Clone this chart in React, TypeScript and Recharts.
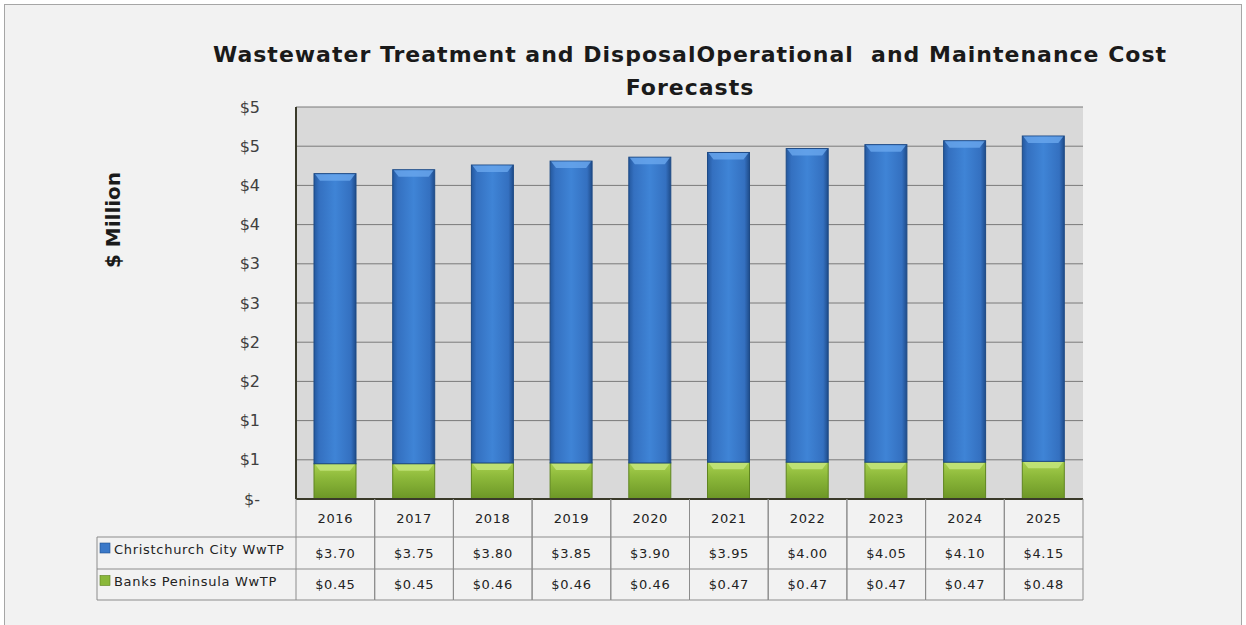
import { BarChart, Bar, XAxis, YAxis, CartesianGrid } from 'recharts'

const years = ['2016', '2017', '2018', '2019', '2020', '2021', '2022', '2023', '2024', '2025']
const christchurch = [3.7, 3.75, 3.8, 3.85, 3.9, 3.95, 4.0, 4.05, 4.1, 4.15]
const banks = [0.45, 0.45, 0.46, 0.46, 0.46, 0.47, 0.47, 0.47, 0.47, 0.48]
const yTicks = [0, 0.5, 1, 1.5, 2, 2.5, 3, 3.5, 4, 4.5, 5]
const seriesNames = ['Christchurch City WwTP', 'Banks Peninsula WwTP']

const data = years.map((year, i) => ({ year, christchurch: christchurch[i], banks: banks[i] }))

const W = 1246
const H = 625
const margin = { top: 107, right: 163, bottom: 25, left: 216 }
const yAxisWidth = 80
const plotW = W - margin.left - margin.right - yAxisWidth
const band = plotW / years.length
const rowH = [38, 32, 31]
const gridColor = '#8c8c8c'
const font = '"DejaVu Sans", Verdana, sans-serif'

const money = (v: number) => '$' + v.toFixed(2)

function BevelBar(props: any) {
  const { x, y, width, height, gradId, capColor, stroke } = props
  if (!height || height <= 0) return null
  const cap = Math.min(7, height / 3)
  const inset = 6
  return (
    <g>
      <rect x={x} y={y} width={width} height={height} fill={`url(#${gradId})`} stroke={stroke} strokeWidth={1} />
      <polygon
        points={`${x + 1},${y + 0.5} ${x + width - 1},${y + 0.5} ${x + width - inset},${y + cap} ${x + inset},${y + cap}`}
        fill={capColor}
        opacity={0.8}
      />
    </g>
  )
}

function TableTick(props: any) {
  const { x, y, payload } = props
  const i = payload.index
  const left = x - band / 2
  const top = y
  const r1 = top + rowH[0]
  const r2 = r1 + rowH[1]
  const r3 = r2 + rowH[2]
  const legendLeft = margin.left + yAxisWidth - 199
  const cellText = { textAnchor: 'middle' as const, dominantBaseline: 'central' as const, fontSize: 13, letterSpacing: 0.6 }
  return (
    <g fontFamily={font} fill="#222">
      <line x1={left} y1={top} x2={left} y2={r3} stroke={gridColor} />
      <line x1={left + band} y1={top} x2={left + band} y2={r3} stroke={gridColor} />
      <line x1={left} y1={r1} x2={left + band} y2={r1} stroke={gridColor} />
      <line x1={left} y1={r2} x2={left + band} y2={r2} stroke={gridColor} />
      <line x1={left} y1={r3} x2={left + band} y2={r3} stroke={gridColor} />
      <text x={x} y={top + rowH[0] / 2} {...cellText}>
        {payload.value}
      </text>
      <text x={x} y={r1 + rowH[1] / 2} {...cellText}>
        {money(christchurch[i])}
      </text>
      <text x={x} y={r2 + rowH[2] / 2} {...cellText}>
        {money(banks[i])}
      </text>
      {i === 0 && (
        <g>
          <line x1={legendLeft} y1={r1} x2={left} y2={r1} stroke={gridColor} />
          <line x1={legendLeft} y1={r2} x2={left} y2={r2} stroke={gridColor} />
          <line x1={legendLeft} y1={r3} x2={left} y2={r3} stroke={gridColor} />
          <line x1={legendLeft} y1={r1} x2={legendLeft} y2={r3} stroke={gridColor} />
          <rect x={legendLeft + 3} y={r1 + rowH[1] / 2 - 10} width={10} height={10} fill="#3a78c8" stroke="#1e4f8c" strokeWidth={0.6} />
          <rect x={legendLeft + 3} y={r2 + rowH[2] / 2 - 9} width={10} height={10} fill="#8ab83a" stroke="#5a7f1c" strokeWidth={0.6} />
          <text x={legendLeft + 17} y={r1 + rowH[1] / 2 - 4} dominantBaseline="central" fontSize={13} letterSpacing={0.7}>
            {seriesNames[0]}
          </text>
          <text x={legendLeft + 17} y={r2 + rowH[2] / 2 - 3} dominantBaseline="central" fontSize={13} letterSpacing={0.7}>
            {seriesNames[1]}
          </text>
        </g>
      )}
    </g>
  )
}

export default function App() {
  return (
    <div style={{ position: 'relative', width: W, height: H, overflow: 'hidden', background: '#fff' }}>
      <style>{'body{margin:0}'}</style>
      <div
        style={{
          position: 'absolute',
          left: 4,
          top: 4,
          width: W - 10,
          height: H + 20,
          border: '1px solid #a6a6a6',
          background: '#f2f2f2',
        }}
      />
      <div
        style={{
          position: 'absolute',
          left: 0,
          top: 38,
          width: 1380,
          textAlign: 'center',
          fontFamily: font,
          fontWeight: 'bold',
          fontSize: 22,
          letterSpacing: 1,
          lineHeight: '33px',
          color: '#1a1a1a',
          whiteSpace: 'pre',
        }}
      >
        {'Wastewater Treatment and DisposalOperational  and Maintenance Cost\nForecasts'}
      </div>
      <div
        style={{
          position: 'absolute',
          left: 113,
          top: 220,
          transform: 'translate(-50%, -50%) rotate(-90deg)',
          fontFamily: font,
          fontWeight: 'bold',
          fontSize: 20,
          color: '#1a1a1a',
          whiteSpace: 'nowrap',
        }}
      >
        $ Million
      </div>
      <div style={{ position: 'absolute', left: 0, top: 0 }}>
        <BarChart width={W} height={H} data={data} margin={margin} barSize={42}>
          <defs>
            <linearGradient id="blueGrad" x1="0" y1="0" x2="1" y2="0">
              <stop offset="0%" stopColor="#24589e" />
              <stop offset="12%" stopColor="#3470c0" />
              <stop offset="50%" stopColor="#3f84d6" />
              <stop offset="88%" stopColor="#3470c0" />
              <stop offset="100%" stopColor="#1f4c8a" />
            </linearGradient>
            <linearGradient id="greenGrad" x1="0" y1="0" x2="0" y2="1">
              <stop offset="0%" stopColor="#a8d04e" />
              <stop offset="40%" stopColor="#8cb83a" />
              <stop offset="100%" stopColor="#6c9626" />
            </linearGradient>
          </defs>
          <CartesianGrid fill="#d9d9d9" stroke="#7a7a7a" vertical={false} />
          <XAxis
            dataKey="year"
            height={101}
            interval={0}
            tickLine={false}
            tickSize={0}
            tickMargin={0}
            axisLine={{ stroke: '#3a3a2a', strokeWidth: 2 }}
            tick={<TableTick />}
          />
          <YAxis
            width={yAxisWidth}
            domain={[0, 5]}
            ticks={yTicks}
            interval={0}
            tickLine={false}
            tickMargin={30}
            axisLine={{ stroke: '#3a3a2a', strokeWidth: 2 }}
            tick={{ fill: '#404040', fontSize: 16, fontFamily: font }}
            tickFormatter={(v: number) => (v === 0 ? '$-' : '$' + Math.round(v))}
          />
          <Bar
            dataKey="banks"
            name={seriesNames[1]}
            stackId="a"
            isAnimationActive={false}
            shape={(p: any) => <BevelBar {...p} gradId="greenGrad" capColor="#c6e67e" stroke="#5f8520" />}
          />
          <Bar
            dataKey="christchurch"
            name={seriesNames[0]}
            stackId="a"
            isAnimationActive={false}
            shape={(p: any) => <BevelBar {...p} gradId="blueGrad" capColor="#6aa8ee" stroke="#1d4a86" />}
          />
        </BarChart>
      </div>
    </div>
  )
}
